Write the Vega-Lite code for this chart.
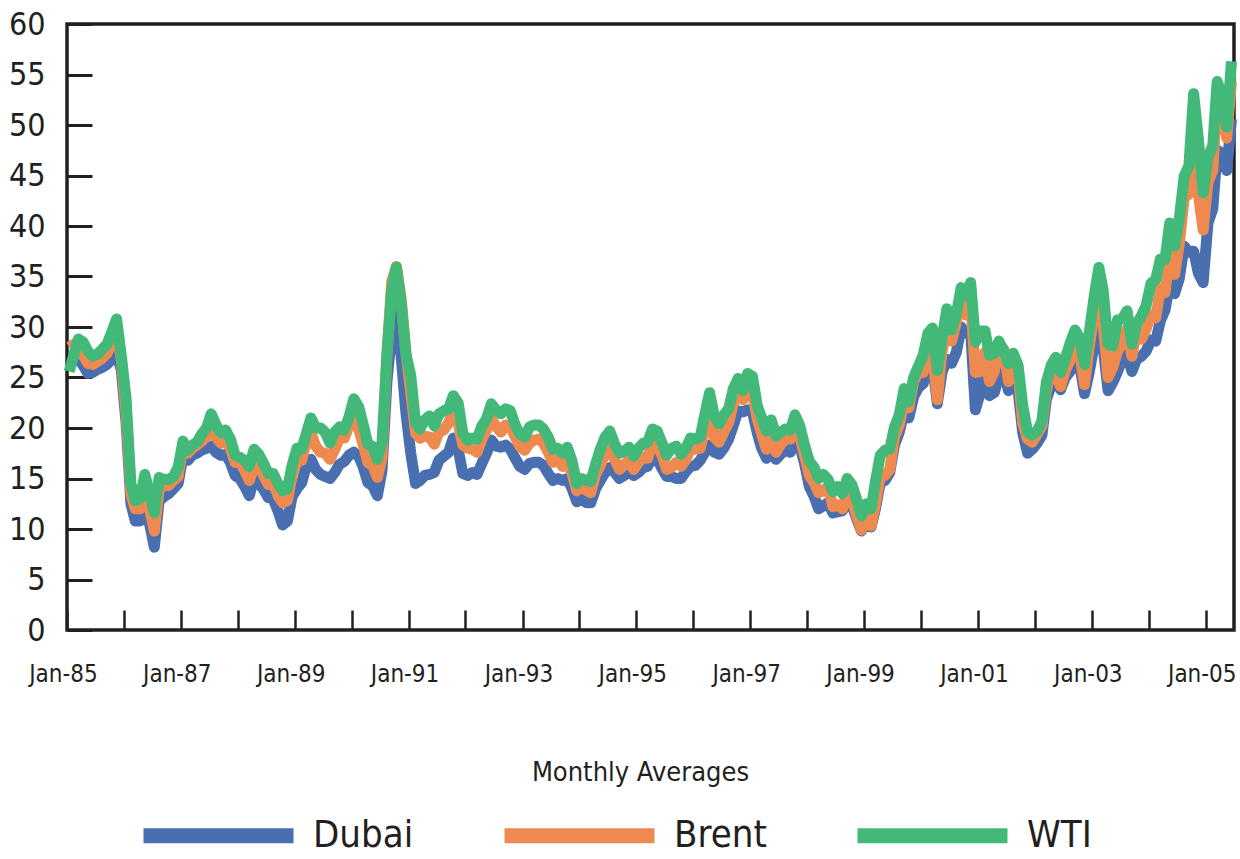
{
  "$schema": "https://vega.github.io/schema/vega-lite/v6.json",
  "width": 1167,
  "height": 606,
  "autosize": "none",
  "padding": {"left": 67, "top": 24, "right": 6, "bottom": 229},
  "background": "white",
  "config": {
    "view": {"stroke": "#231f20", "strokeWidth": 3.5},
    "font": "Liberation Sans Narrow, DejaVu Sans Condensed, sans-serif"
  },
  "data": {
    "values": [
      {"d":"1985-01-15","Dubai":27.2,"Brent":28.0,"WTI":25.6},
      {"d":"1985-02-15","Dubai":27.0,"Brent":28.3,"WTI":27.3},
      {"d":"1985-03-15","Dubai":26.8,"Brent":27.9,"WTI":28.8},
      {"d":"1985-04-15","Dubai":26.2,"Brent":27.2,"WTI":28.5},
      {"d":"1985-05-15","Dubai":25.4,"Brent":26.4,"WTI":27.6},
      {"d":"1985-06-15","Dubai":25.5,"Brent":26.3,"WTI":27.1},
      {"d":"1985-07-15","Dubai":25.8,"Brent":26.6,"WTI":27.3},
      {"d":"1985-08-15","Dubai":26.0,"Brent":26.9,"WTI":27.8},
      {"d":"1985-09-15","Dubai":26.3,"Brent":27.4,"WTI":28.3},
      {"d":"1985-10-15","Dubai":26.8,"Brent":28.5,"WTI":29.5},
      {"d":"1985-11-15","Dubai":27.3,"Brent":29.6,"WTI":30.8},
      {"d":"1985-12-15","Dubai":25.8,"Brent":26.8,"WTI":27.2},
      {"d":"1986-01-15","Dubai":20.5,"Brent":21.5,"WTI":22.9},
      {"d":"1986-02-15","Dubai":12.5,"Brent":13.5,"WTI":14.5},
      {"d":"1986-03-15","Dubai":10.8,"Brent":12.0,"WTI":12.8},
      {"d":"1986-04-15","Dubai":10.8,"Brent":12.0,"WTI":13.0},
      {"d":"1986-05-15","Dubai":11.5,"Brent":13.6,"WTI":15.4},
      {"d":"1986-06-15","Dubai":10.5,"Brent":12.0,"WTI":13.5},
      {"d":"1986-07-15","Dubai":8.2,"Brent":9.8,"WTI":11.6},
      {"d":"1986-08-15","Dubai":12.8,"Brent":13.9,"WTI":15.1},
      {"d":"1986-09-15","Dubai":13.2,"Brent":14.3,"WTI":14.9},
      {"d":"1986-10-15","Dubai":13.5,"Brent":14.3,"WTI":14.9},
      {"d":"1986-11-15","Dubai":14.0,"Brent":14.8,"WTI":15.2},
      {"d":"1986-12-15","Dubai":14.5,"Brent":15.2,"WTI":16.1},
      {"d":"1987-01-15","Dubai":17.2,"Brent":18.2,"WTI":18.7},
      {"d":"1987-02-15","Dubai":16.8,"Brent":17.5,"WTI":17.8},
      {"d":"1987-03-15","Dubai":17.3,"Brent":18.0,"WTI":18.3},
      {"d":"1987-04-15","Dubai":17.5,"Brent":18.3,"WTI":18.6},
      {"d":"1987-05-15","Dubai":17.8,"Brent":18.7,"WTI":19.4},
      {"d":"1987-06-15","Dubai":18.0,"Brent":19.2,"WTI":20.0},
      {"d":"1987-07-15","Dubai":18.2,"Brent":19.9,"WTI":21.4},
      {"d":"1987-08-15","Dubai":17.6,"Brent":19.1,"WTI":20.3},
      {"d":"1987-09-15","Dubai":17.3,"Brent":18.5,"WTI":19.5},
      {"d":"1987-10-15","Dubai":17.4,"Brent":18.8,"WTI":19.8},
      {"d":"1987-11-15","Dubai":16.6,"Brent":18.0,"WTI":18.9},
      {"d":"1987-12-15","Dubai":15.3,"Brent":16.6,"WTI":17.3},
      {"d":"1988-01-15","Dubai":15.0,"Brent":16.7,"WTI":17.1},
      {"d":"1988-02-15","Dubai":14.2,"Brent":15.8,"WTI":16.8},
      {"d":"1988-03-15","Dubai":13.3,"Brent":14.8,"WTI":16.2},
      {"d":"1988-04-15","Dubai":15.0,"Brent":16.2,"WTI":17.9},
      {"d":"1988-05-15","Dubai":14.6,"Brent":16.3,"WTI":17.4},
      {"d":"1988-06-15","Dubai":13.9,"Brent":15.3,"WTI":16.5},
      {"d":"1988-07-15","Dubai":13.1,"Brent":14.4,"WTI":15.5},
      {"d":"1988-08-15","Dubai":13.0,"Brent":14.8,"WTI":15.5},
      {"d":"1988-09-15","Dubai":11.8,"Brent":13.3,"WTI":14.5},
      {"d":"1988-10-15","Dubai":10.4,"Brent":12.6,"WTI":13.8},
      {"d":"1988-11-15","Dubai":10.8,"Brent":12.8,"WTI":14.0},
      {"d":"1988-12-15","Dubai":13.2,"Brent":15.3,"WTI":16.3},
      {"d":"1989-01-15","Dubai":14.0,"Brent":16.8,"WTI":18.0},
      {"d":"1989-02-15","Dubai":14.6,"Brent":16.8,"WTI":17.9},
      {"d":"1989-03-15","Dubai":16.2,"Brent":18.6,"WTI":19.4},
      {"d":"1989-04-15","Dubai":16.9,"Brent":19.5,"WTI":21.0},
      {"d":"1989-05-15","Dubai":15.9,"Brent":18.2,"WTI":20.0},
      {"d":"1989-06-15","Dubai":15.4,"Brent":17.6,"WTI":20.0},
      {"d":"1989-07-15","Dubai":15.2,"Brent":17.5,"WTI":19.6},
      {"d":"1989-08-15","Dubai":15.0,"Brent":16.9,"WTI":18.5},
      {"d":"1989-09-15","Dubai":15.6,"Brent":17.9,"WTI":19.6},
      {"d":"1989-10-15","Dubai":16.4,"Brent":19.0,"WTI":20.1},
      {"d":"1989-11-15","Dubai":16.7,"Brent":19.0,"WTI":19.8},
      {"d":"1989-12-15","Dubai":17.3,"Brent":20.2,"WTI":21.1},
      {"d":"1990-01-15","Dubai":17.6,"Brent":21.1,"WTI":22.9},
      {"d":"1990-02-15","Dubai":17.2,"Brent":19.9,"WTI":22.1},
      {"d":"1990-03-15","Dubai":16.2,"Brent":18.4,"WTI":20.4},
      {"d":"1990-04-15","Dubai":14.6,"Brent":16.6,"WTI":18.4},
      {"d":"1990-05-15","Dubai":14.3,"Brent":16.3,"WTI":18.2},
      {"d":"1990-06-15","Dubai":13.3,"Brent":15.1,"WTI":16.9},
      {"d":"1990-07-15","Dubai":15.8,"Brent":17.1,"WTI":18.6},
      {"d":"1990-08-15","Dubai":24.5,"Brent":27.2,"WTI":27.2},
      {"d":"1990-09-15","Dubai":29.5,"Brent":34.5,"WTI":33.7},
      {"d":"1990-10-15","Dubai":31.5,"Brent":36.0,"WTI":35.9},
      {"d":"1990-11-15","Dubai":27.0,"Brent":32.8,"WTI":32.3},
      {"d":"1990-12-15","Dubai":21.5,"Brent":27.5,"WTI":27.3},
      {"d":"1991-01-15","Dubai":17.5,"Brent":23.5,"WTI":25.2},
      {"d":"1991-02-15","Dubai":14.5,"Brent":19.5,"WTI":20.5},
      {"d":"1991-03-15","Dubai":14.8,"Brent":19.0,"WTI":19.9},
      {"d":"1991-04-15","Dubai":15.3,"Brent":19.2,"WTI":20.8},
      {"d":"1991-05-15","Dubai":15.4,"Brent":19.1,"WTI":21.2},
      {"d":"1991-06-15","Dubai":15.6,"Brent":18.4,"WTI":20.2},
      {"d":"1991-07-15","Dubai":16.8,"Brent":19.6,"WTI":21.4},
      {"d":"1991-08-15","Dubai":17.2,"Brent":19.8,"WTI":21.7},
      {"d":"1991-09-15","Dubai":17.6,"Brent":20.5,"WTI":21.9},
      {"d":"1991-10-15","Dubai":19.0,"Brent":21.8,"WTI":23.2},
      {"d":"1991-11-15","Dubai":17.9,"Brent":20.5,"WTI":22.5},
      {"d":"1991-12-15","Dubai":15.5,"Brent":18.3,"WTI":19.5},
      {"d":"1992-01-15","Dubai":15.3,"Brent":18.0,"WTI":18.8},
      {"d":"1992-02-15","Dubai":15.6,"Brent":17.9,"WTI":19.0},
      {"d":"1992-03-15","Dubai":15.4,"Brent":17.6,"WTI":18.9},
      {"d":"1992-04-15","Dubai":16.5,"Brent":18.9,"WTI":20.2},
      {"d":"1992-05-15","Dubai":17.5,"Brent":19.8,"WTI":20.9},
      {"d":"1992-06-15","Dubai":18.8,"Brent":20.9,"WTI":22.4},
      {"d":"1992-07-15","Dubai":18.2,"Brent":20.2,"WTI":21.8},
      {"d":"1992-08-15","Dubai":18.1,"Brent":19.6,"WTI":21.4},
      {"d":"1992-09-15","Dubai":18.3,"Brent":20.3,"WTI":21.9},
      {"d":"1992-10-15","Dubai":17.9,"Brent":20.2,"WTI":21.7},
      {"d":"1992-11-15","Dubai":17.0,"Brent":19.1,"WTI":20.3},
      {"d":"1992-12-15","Dubai":16.2,"Brent":18.2,"WTI":19.4},
      {"d":"1993-01-15","Dubai":15.9,"Brent":17.8,"WTI":19.1},
      {"d":"1993-02-15","Dubai":16.5,"Brent":18.5,"WTI":20.1},
      {"d":"1993-03-15","Dubai":16.6,"Brent":18.8,"WTI":20.3},
      {"d":"1993-04-15","Dubai":16.6,"Brent":18.9,"WTI":20.3},
      {"d":"1993-05-15","Dubai":16.3,"Brent":18.5,"WTI":19.9},
      {"d":"1993-06-15","Dubai":15.5,"Brent":17.6,"WTI":19.1},
      {"d":"1993-07-15","Dubai":14.8,"Brent":16.6,"WTI":17.9},
      {"d":"1993-08-15","Dubai":15.0,"Brent":16.9,"WTI":18.0},
      {"d":"1993-09-15","Dubai":14.8,"Brent":16.2,"WTI":17.5},
      {"d":"1993-10-15","Dubai":15.0,"Brent":16.6,"WTI":18.1},
      {"d":"1993-11-15","Dubai":14.0,"Brent":15.5,"WTI":16.7},
      {"d":"1993-12-15","Dubai":12.7,"Brent":13.8,"WTI":14.5},
      {"d":"1994-01-15","Dubai":13.0,"Brent":14.2,"WTI":15.0},
      {"d":"1994-02-15","Dubai":12.6,"Brent":13.8,"WTI":14.8},
      {"d":"1994-03-15","Dubai":12.6,"Brent":13.6,"WTI":14.7},
      {"d":"1994-04-15","Dubai":14.0,"Brent":15.4,"WTI":16.4},
      {"d":"1994-05-15","Dubai":14.8,"Brent":16.3,"WTI":17.9},
      {"d":"1994-06-15","Dubai":15.6,"Brent":17.5,"WTI":19.1},
      {"d":"1994-07-15","Dubai":16.1,"Brent":17.9,"WTI":19.7},
      {"d":"1994-08-15","Dubai":15.6,"Brent":16.9,"WTI":18.4},
      {"d":"1994-09-15","Dubai":15.0,"Brent":15.9,"WTI":17.5},
      {"d":"1994-10-15","Dubai":15.3,"Brent":16.3,"WTI":17.7},
      {"d":"1994-11-15","Dubai":15.7,"Brent":16.9,"WTI":18.1},
      {"d":"1994-12-15","Dubai":15.3,"Brent":15.9,"WTI":17.2},
      {"d":"1995-01-15","Dubai":15.6,"Brent":16.6,"WTI":18.0},
      {"d":"1995-02-15","Dubai":16.1,"Brent":17.1,"WTI":18.5},
      {"d":"1995-03-15","Dubai":16.2,"Brent":17.0,"WTI":18.6},
      {"d":"1995-04-15","Dubai":17.2,"Brent":18.6,"WTI":19.9},
      {"d":"1995-05-15","Dubai":16.9,"Brent":18.3,"WTI":19.7},
      {"d":"1995-06-15","Dubai":16.0,"Brent":17.3,"WTI":18.5},
      {"d":"1995-07-15","Dubai":15.2,"Brent":15.9,"WTI":17.3},
      {"d":"1995-08-15","Dubai":15.2,"Brent":16.1,"WTI":18.0},
      {"d":"1995-09-15","Dubai":15.0,"Brent":16.6,"WTI":18.2},
      {"d":"1995-10-15","Dubai":15.0,"Brent":16.2,"WTI":17.4},
      {"d":"1995-11-15","Dubai":15.7,"Brent":16.9,"WTI":18.0},
      {"d":"1995-12-15","Dubai":16.2,"Brent":17.9,"WTI":19.0},
      {"d":"1996-01-15","Dubai":16.3,"Brent":17.9,"WTI":18.9},
      {"d":"1996-02-15","Dubai":16.8,"Brent":18.0,"WTI":19.1},
      {"d":"1996-03-15","Dubai":17.6,"Brent":19.9,"WTI":21.3},
      {"d":"1996-04-15","Dubai":18.3,"Brent":21.0,"WTI":23.5},
      {"d":"1996-05-15","Dubai":17.6,"Brent":19.1,"WTI":21.2},
      {"d":"1996-06-15","Dubai":17.4,"Brent":18.6,"WTI":20.4},
      {"d":"1996-07-15","Dubai":18.0,"Brent":19.6,"WTI":21.3},
      {"d":"1996-08-15","Dubai":18.9,"Brent":20.5,"WTI":21.9},
      {"d":"1996-09-15","Dubai":20.3,"Brent":22.5,"WTI":23.9},
      {"d":"1996-10-15","Dubai":21.7,"Brent":23.6,"WTI":24.9},
      {"d":"1996-11-15","Dubai":21.6,"Brent":22.8,"WTI":23.7},
      {"d":"1996-12-15","Dubai":21.8,"Brent":23.6,"WTI":25.4},
      {"d":"1997-01-15","Dubai":21.6,"Brent":23.5,"WTI":25.1},
      {"d":"1997-02-15","Dubai":19.5,"Brent":20.9,"WTI":22.2},
      {"d":"1997-03-15","Dubai":18.0,"Brent":19.4,"WTI":21.0},
      {"d":"1997-04-15","Dubai":17.0,"Brent":17.9,"WTI":19.7},
      {"d":"1997-05-15","Dubai":17.8,"Brent":19.0,"WTI":20.8},
      {"d":"1997-06-15","Dubai":16.9,"Brent":17.6,"WTI":19.2},
      {"d":"1997-07-15","Dubai":17.4,"Brent":18.4,"WTI":19.6},
      {"d":"1997-08-15","Dubai":17.9,"Brent":18.9,"WTI":19.9},
      {"d":"1997-09-15","Dubai":17.6,"Brent":18.9,"WTI":19.8},
      {"d":"1997-10-15","Dubai":18.7,"Brent":20.2,"WTI":21.3},
      {"d":"1997-11-15","Dubai":18.2,"Brent":19.2,"WTI":20.2},
      {"d":"1997-12-15","Dubai":16.5,"Brent":17.3,"WTI":18.3},
      {"d":"1998-01-15","Dubai":14.2,"Brent":15.3,"WTI":16.7},
      {"d":"1998-02-15","Dubai":13.2,"Brent":14.6,"WTI":16.1},
      {"d":"1998-03-15","Dubai":12.0,"Brent":13.6,"WTI":15.0},
      {"d":"1998-04-15","Dubai":12.3,"Brent":13.8,"WTI":15.4},
      {"d":"1998-05-15","Dubai":12.6,"Brent":14.2,"WTI":14.9},
      {"d":"1998-06-15","Dubai":11.6,"Brent":12.2,"WTI":13.7},
      {"d":"1998-07-15","Dubai":11.7,"Brent":12.4,"WTI":14.2},
      {"d":"1998-08-15","Dubai":11.8,"Brent":12.0,"WTI":13.5},
      {"d":"1998-09-15","Dubai":12.9,"Brent":13.6,"WTI":15.0},
      {"d":"1998-10-15","Dubai":12.4,"Brent":12.9,"WTI":14.4},
      {"d":"1998-11-15","Dubai":11.0,"Brent":11.3,"WTI":12.9},
      {"d":"1998-12-15","Dubai":9.8,"Brent":9.9,"WTI":11.3},
      {"d":"1999-01-15","Dubai":10.7,"Brent":11.1,"WTI":12.5},
      {"d":"1999-02-15","Dubai":10.2,"Brent":10.3,"WTI":12.0},
      {"d":"1999-03-15","Dubai":12.0,"Brent":12.5,"WTI":14.7},
      {"d":"1999-04-15","Dubai":14.6,"Brent":15.3,"WTI":17.3},
      {"d":"1999-05-15","Dubai":14.8,"Brent":15.3,"WTI":17.8},
      {"d":"1999-06-15","Dubai":15.6,"Brent":15.9,"WTI":17.9},
      {"d":"1999-07-15","Dubai":18.3,"Brent":19.1,"WTI":20.1},
      {"d":"1999-08-15","Dubai":19.6,"Brent":20.3,"WTI":21.3},
      {"d":"1999-09-15","Dubai":21.6,"Brent":22.6,"WTI":23.9},
      {"d":"1999-10-15","Dubai":21.0,"Brent":22.0,"WTI":22.6},
      {"d":"1999-11-15","Dubai":23.1,"Brent":24.6,"WTI":25.0},
      {"d":"1999-12-15","Dubai":24.0,"Brent":25.5,"WTI":26.1},
      {"d":"2000-01-15","Dubai":24.4,"Brent":25.5,"WTI":27.2},
      {"d":"2000-02-15","Dubai":25.9,"Brent":27.8,"WTI":29.4},
      {"d":"2000-03-15","Dubai":26.3,"Brent":27.4,"WTI":29.9},
      {"d":"2000-04-15","Dubai":22.4,"Brent":22.8,"WTI":25.7},
      {"d":"2000-05-15","Dubai":25.5,"Brent":27.6,"WTI":28.8},
      {"d":"2000-06-15","Dubai":26.8,"Brent":29.8,"WTI":31.8},
      {"d":"2000-07-15","Dubai":26.4,"Brent":28.6,"WTI":29.7},
      {"d":"2000-08-15","Dubai":27.5,"Brent":30.5,"WTI":31.3},
      {"d":"2000-09-15","Dubai":30.0,"Brent":32.9,"WTI":33.9},
      {"d":"2000-10-15","Dubai":29.4,"Brent":31.2,"WTI":33.1},
      {"d":"2000-11-15","Dubai":29.5,"Brent":32.5,"WTI":34.4},
      {"d":"2000-12-15","Dubai":21.8,"Brent":25.5,"WTI":28.5},
      {"d":"2001-01-15","Dubai":23.5,"Brent":25.6,"WTI":29.6},
      {"d":"2001-02-15","Dubai":25.0,"Brent":27.5,"WTI":29.6},
      {"d":"2001-03-15","Dubai":23.2,"Brent":24.6,"WTI":27.2},
      {"d":"2001-04-15","Dubai":23.5,"Brent":25.6,"WTI":27.4},
      {"d":"2001-05-15","Dubai":25.1,"Brent":28.1,"WTI":28.6},
      {"d":"2001-06-15","Dubai":25.8,"Brent":27.8,"WTI":27.6},
      {"d":"2001-07-15","Dubai":23.7,"Brent":24.6,"WTI":26.4},
      {"d":"2001-08-15","Dubai":24.4,"Brent":25.9,"WTI":27.4},
      {"d":"2001-09-15","Dubai":23.7,"Brent":25.6,"WTI":26.2},
      {"d":"2001-10-15","Dubai":19.5,"Brent":20.5,"WTI":22.2},
      {"d":"2001-11-15","Dubai":17.5,"Brent":18.9,"WTI":19.6},
      {"d":"2001-12-15","Dubai":17.9,"Brent":18.6,"WTI":19.3},
      {"d":"2002-01-15","Dubai":18.5,"Brent":19.4,"WTI":19.7},
      {"d":"2002-02-15","Dubai":19.3,"Brent":20.2,"WTI":20.7},
      {"d":"2002-03-15","Dubai":22.8,"Brent":23.7,"WTI":24.5},
      {"d":"2002-04-15","Dubai":24.2,"Brent":25.7,"WTI":26.2},
      {"d":"2002-05-15","Dubai":24.7,"Brent":25.4,"WTI":27.0},
      {"d":"2002-06-15","Dubai":23.8,"Brent":24.1,"WTI":25.5},
      {"d":"2002-07-15","Dubai":25.0,"Brent":25.7,"WTI":26.9},
      {"d":"2002-08-15","Dubai":25.6,"Brent":26.7,"WTI":28.4},
      {"d":"2002-09-15","Dubai":27.2,"Brent":28.3,"WTI":29.7},
      {"d":"2002-10-15","Dubai":26.3,"Brent":27.5,"WTI":28.9},
      {"d":"2002-11-15","Dubai":23.4,"Brent":24.3,"WTI":26.3},
      {"d":"2002-12-15","Dubai":25.5,"Brent":28.0,"WTI":29.4},
      {"d":"2003-01-15","Dubai":28.2,"Brent":31.2,"WTI":32.9},
      {"d":"2003-02-15","Dubai":30.0,"Brent":32.8,"WTI":35.9},
      {"d":"2003-03-15","Dubai":27.9,"Brent":30.3,"WTI":33.6},
      {"d":"2003-04-15","Dubai":23.7,"Brent":25.0,"WTI":28.3},
      {"d":"2003-05-15","Dubai":24.5,"Brent":26.0,"WTI":28.1},
      {"d":"2003-06-15","Dubai":25.6,"Brent":27.6,"WTI":30.7},
      {"d":"2003-07-15","Dubai":26.8,"Brent":28.4,"WTI":30.8},
      {"d":"2003-08-15","Dubai":27.4,"Brent":29.8,"WTI":31.6},
      {"d":"2003-09-15","Dubai":25.6,"Brent":27.1,"WTI":28.3},
      {"d":"2003-10-15","Dubai":26.8,"Brent":29.6,"WTI":30.3},
      {"d":"2003-11-15","Dubai":27.1,"Brent":28.8,"WTI":31.1},
      {"d":"2003-12-15","Dubai":27.6,"Brent":29.8,"WTI":32.1},
      {"d":"2004-01-15","Dubai":28.7,"Brent":31.2,"WTI":34.3},
      {"d":"2004-02-15","Dubai":28.6,"Brent":30.9,"WTI":34.7},
      {"d":"2004-03-15","Dubai":30.6,"Brent":33.8,"WTI":36.7},
      {"d":"2004-04-15","Dubai":31.7,"Brent":33.4,"WTI":36.7},
      {"d":"2004-05-15","Dubai":34.3,"Brent":37.6,"WTI":40.3},
      {"d":"2004-06-15","Dubai":33.3,"Brent":35.2,"WTI":38.0},
      {"d":"2004-07-15","Dubai":34.8,"Brent":38.2,"WTI":40.7},
      {"d":"2004-08-15","Dubai":38.0,"Brent":42.7,"WTI":44.9},
      {"d":"2004-09-15","Dubai":37.4,"Brent":43.2,"WTI":46.0},
      {"d":"2004-10-15","Dubai":37.5,"Brent":49.8,"WTI":53.1},
      {"d":"2004-11-15","Dubai":35.3,"Brent":43.1,"WTI":48.5},
      {"d":"2004-12-15","Dubai":34.4,"Brent":39.6,"WTI":43.3},
      {"d":"2005-01-15","Dubai":40.3,"Brent":44.3,"WTI":46.8},
      {"d":"2005-02-15","Dubai":41.7,"Brent":45.5,"WTI":48.0},
      {"d":"2005-03-15","Dubai":47.5,"Brent":53.1,"WTI":54.3},
      {"d":"2005-04-15","Dubai":47.2,"Brent":51.9,"WTI":53.0},
      {"d":"2005-05-15","Dubai":45.5,"Brent":48.7,"WTI":49.8},
      {"d":"2005-06-15","Dubai":50.6,"Brent":54.3,"WTI":56.3}
    ]
  },
  "transform": [
    {"fold": ["Dubai", "Brent", "WTI"], "as": ["series", "price"]}
  ],
  "mark": {"type": "line", "strokeWidth": 11, "strokeJoin": "round"},
  "encoding": {
    "x": {
      "field": "d",
      "type": "temporal",
      "scale": {"type": "utc", "domain": ["1985-01-01", "2005-07-01"], "nice": false},
      "axis": {
        "title": "Monthly Averages",
        "titleFontSize": 27,
        "titleFontWeight": "normal",
        "titleColor": "#231f20",
        "titleY": 150,
        "titleX": 573,
        "titleBaseline": "alphabetic",
        "domain": false,
        "grid": false,
        "tickCount": {"interval": "year", "step": 1},
        "tickSize": -20,
        "tickWidth": 2.5,
        "tickColor": "#231f20",
        "labelExpr": "utcyear(datum.value) % 2 == 1 ? utcFormat(datum.value, 'Jan-%y') : ''",
        "labelOverlap": false,
        "labelFlush": false,
        "labelFontSize": 24,
        "labelOffset": -4,
        "labelColor": "#231f20",
        "labelPadding": 52,
        "labelBaseline": "top"
      }
    },
    "y": {
      "field": "price",
      "type": "quantitative",
      "scale": {"domain": [0, 60], "nice": false, "zero": true},
      "axis": {
        "title": null,
        "domain": false,
        "grid": false,
        "values": [0, 5, 10, 15, 20, 25, 30, 35, 40, 45, 50, 55, 60],
        "tickSize": -25,
        "tickWidth": 3,
        "tickColor": "#231f20",
        "labelFontSize": 32,
        "labelColor": "#231f20",
        "labelPadding": 47
      }
    },
    "color": {
      "field": "series",
      "type": "nominal",
      "sort": ["Dubai", "Brent", "WTI"],
      "scale": {"domain": ["Dubai", "Brent", "WTI"], "range": ["#4a6fb0", "#ee8a4f", "#42b978"]},
      "legend": {
        "title": null,
        "orient": "none",
        "legendX": 69,
        "legendY": 729,
        "direction": "horizontal",
        "symbolType": "stroke",
        "symbolSize": 22500,
        "symbolStrokeWidth": 15,
        "labelFontSize": 38,
        "labelColor": "#231f20",
        "labelOffset": 12,
        "columnPadding": 60,
        "labelLimit": 300
      }
    }
  }
}
